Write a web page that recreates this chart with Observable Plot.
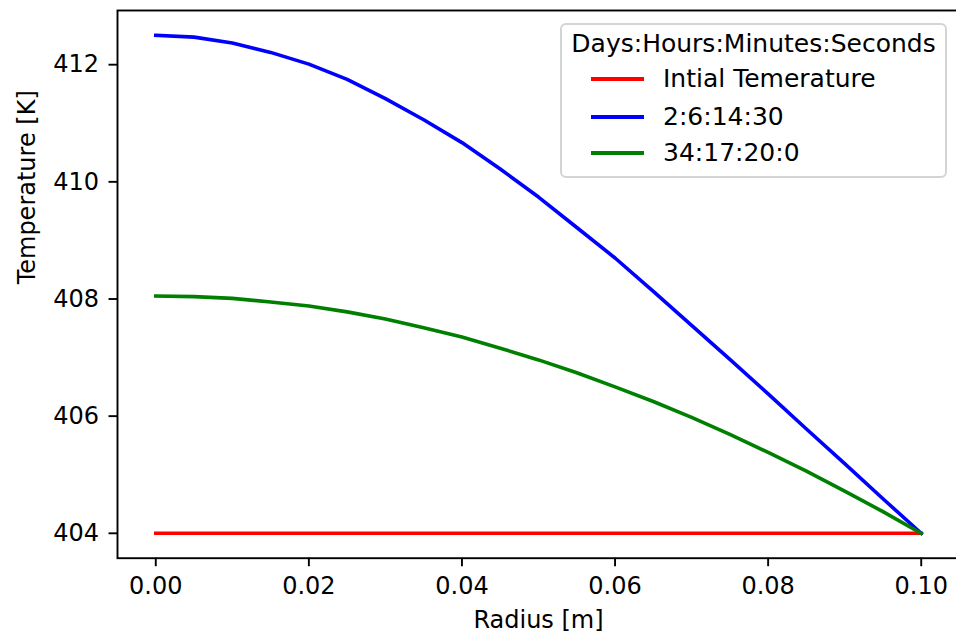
<!DOCTYPE html>
<html>
<head>
<meta charset="utf-8">
<script src="https://cdn.jsdelivr.net/npm/d3@7"></script>
<script src="https://cdn.jsdelivr.net/npm/@observablehq/plot@0.6"></script>
<style>
  html, body { margin: 0; padding: 0; background: white; }
  #wrap { position: relative; width: 956px; height: 633px; overflow: hidden; font-family: "DejaVu Sans", sans-serif; }
  #legend { position: absolute; left: 560px; top: 23px; width: 387px; height: 155px; box-sizing: border-box;
            border: 2px solid #d4d4d4; border-radius: 6px; background: rgba(255,255,255,0.8); }
  #legend .title { position: absolute; left: 0; right: 0; top: 5px; text-align: center; font-size: 25px; line-height: 28px; color: #000; white-space: nowrap; }
  #legend .row { position: absolute; left: 0; right: 0; height: 28px; }
  #legend .swatch { position: absolute; left: 29px; width: 53px; height: 4px; top: 12px; }
  #legend .lbl { position: absolute; left: 101px; top: 0; font-size: 25px; line-height: 28px; color: #000; white-space: nowrap; }
</style>
</head>
<body>
<div id="wrap"></div>
<script>
// ---- data ----
const radius = [0, 0.005, 0.01, 0.015, 0.02, 0.025, 0.03, 0.035, 0.04, 0.045, 0.05,
                0.055, 0.06, 0.065, 0.07, 0.075, 0.08, 0.085, 0.09, 0.095, 0.1];
const initialTemp = [404, 404, 404, 404, 404, 404, 404, 404, 404, 404, 404,
                     404, 404, 404, 404, 404, 404, 404, 404, 404, 404];
const tempDay2 = [412.50, 412.47, 412.37, 412.21, 412.01, 411.75, 411.42, 411.06, 410.67, 410.22, 409.74,
                  409.22, 408.70, 408.13, 407.55, 406.97, 406.38, 405.78, 405.19, 404.59, 404.00];
const tempDay34 = [408.05, 408.04, 408.01, 407.95, 407.88, 407.78, 407.66, 407.51, 407.35, 407.16, 406.96,
                   406.74, 406.50, 406.25, 405.98, 405.69, 405.38, 405.06, 404.72, 404.37, 404.00];
const seriesNames = ["Intial Temerature", "2:6:14:30", "34:17:20:0"];
const seriesColors = ["#ff0000", "#0000ff", "#008000"];
const legendTitle = "Days:Hours:Minutes:Seconds";
const xTicks = [0, 0.02, 0.04, 0.06, 0.08, 0.10];
const yTicks = [404, 406, 408, 410, 412];
const xLabel = "Radius [m]";
const yLabel = "Temperature [K]";

const seriesValues = [initialTemp, tempDay2, tempDay34];
const tables = seriesValues.map((vals, i) =>
  radius.map((r, j) => ({ r, t: vals[j], series: seriesNames[i] })));

const chart = Plot.plot({
  width: 956,
  height: 633,
  marginLeft: 117,
  marginTop: 10,
  marginBottom: 75.3,
  marginRight: -3,
  x: { domain: [-0.005, 0.105] },
  y: { domain: [403.575, 412.925] },
  style: { fontSize: "24px", fontFamily: "DejaVu Sans", color: "black", background: "white", overflow: "visible" },
  marks: [
    ...tables.map((tbl, i) => Plot.line(tbl, {
      x: "r", y: "t", stroke: seriesColors[i], strokeWidth: 3.6,
      strokeLinecap: "square", strokeLinejoin: "round"
    })),
    Plot.axisX({ ticks: xTicks, tickFormat: d3.format(".2f"), tickSize: 8.5, tickPadding: 10, strokeWidth: 1.9, label: null }),
    Plot.axisY({ ticks: yTicks, tickFormat: d => String(d), tickSize: 8.5, tickPadding: 10, strokeWidth: 1.9, label: null }),
    Plot.text([xLabel], { frameAnchor: "bottom", dy: 62, text: d => d, fontSize: 24, lineAnchor: "middle", fill: "black" }),
    Plot.text([yLabel], { frameAnchor: "left", dx: -90, rotate: -90, text: d => d, fontSize: 24, lineAnchor: "middle", fill: "black" }),
    Plot.frame({ stroke: "black", strokeWidth: 1.9 })
  ]
});

const wrap = document.getElementById("wrap");
wrap.appendChild(chart);

// legend (HTML overlay)
const legend = document.createElement("div");
legend.id = "legend";
const title = document.createElement("div");
title.className = "title";
title.textContent = legendTitle;
legend.appendChild(title);
const rowTops = [40, 78, 114];
seriesNames.forEach((name, i) => {
  const row = document.createElement("div");
  row.className = "row";
  row.style.top = rowTops[i] + "px";
  const sw = document.createElement("div");
  sw.className = "swatch";
  sw.style.background = seriesColors[i];
  const lbl = document.createElement("div");
  lbl.className = "lbl";
  lbl.textContent = name;
  row.appendChild(sw);
  row.appendChild(lbl);
  legend.appendChild(row);
});
wrap.appendChild(legend);
</script>
</body>
</html>
